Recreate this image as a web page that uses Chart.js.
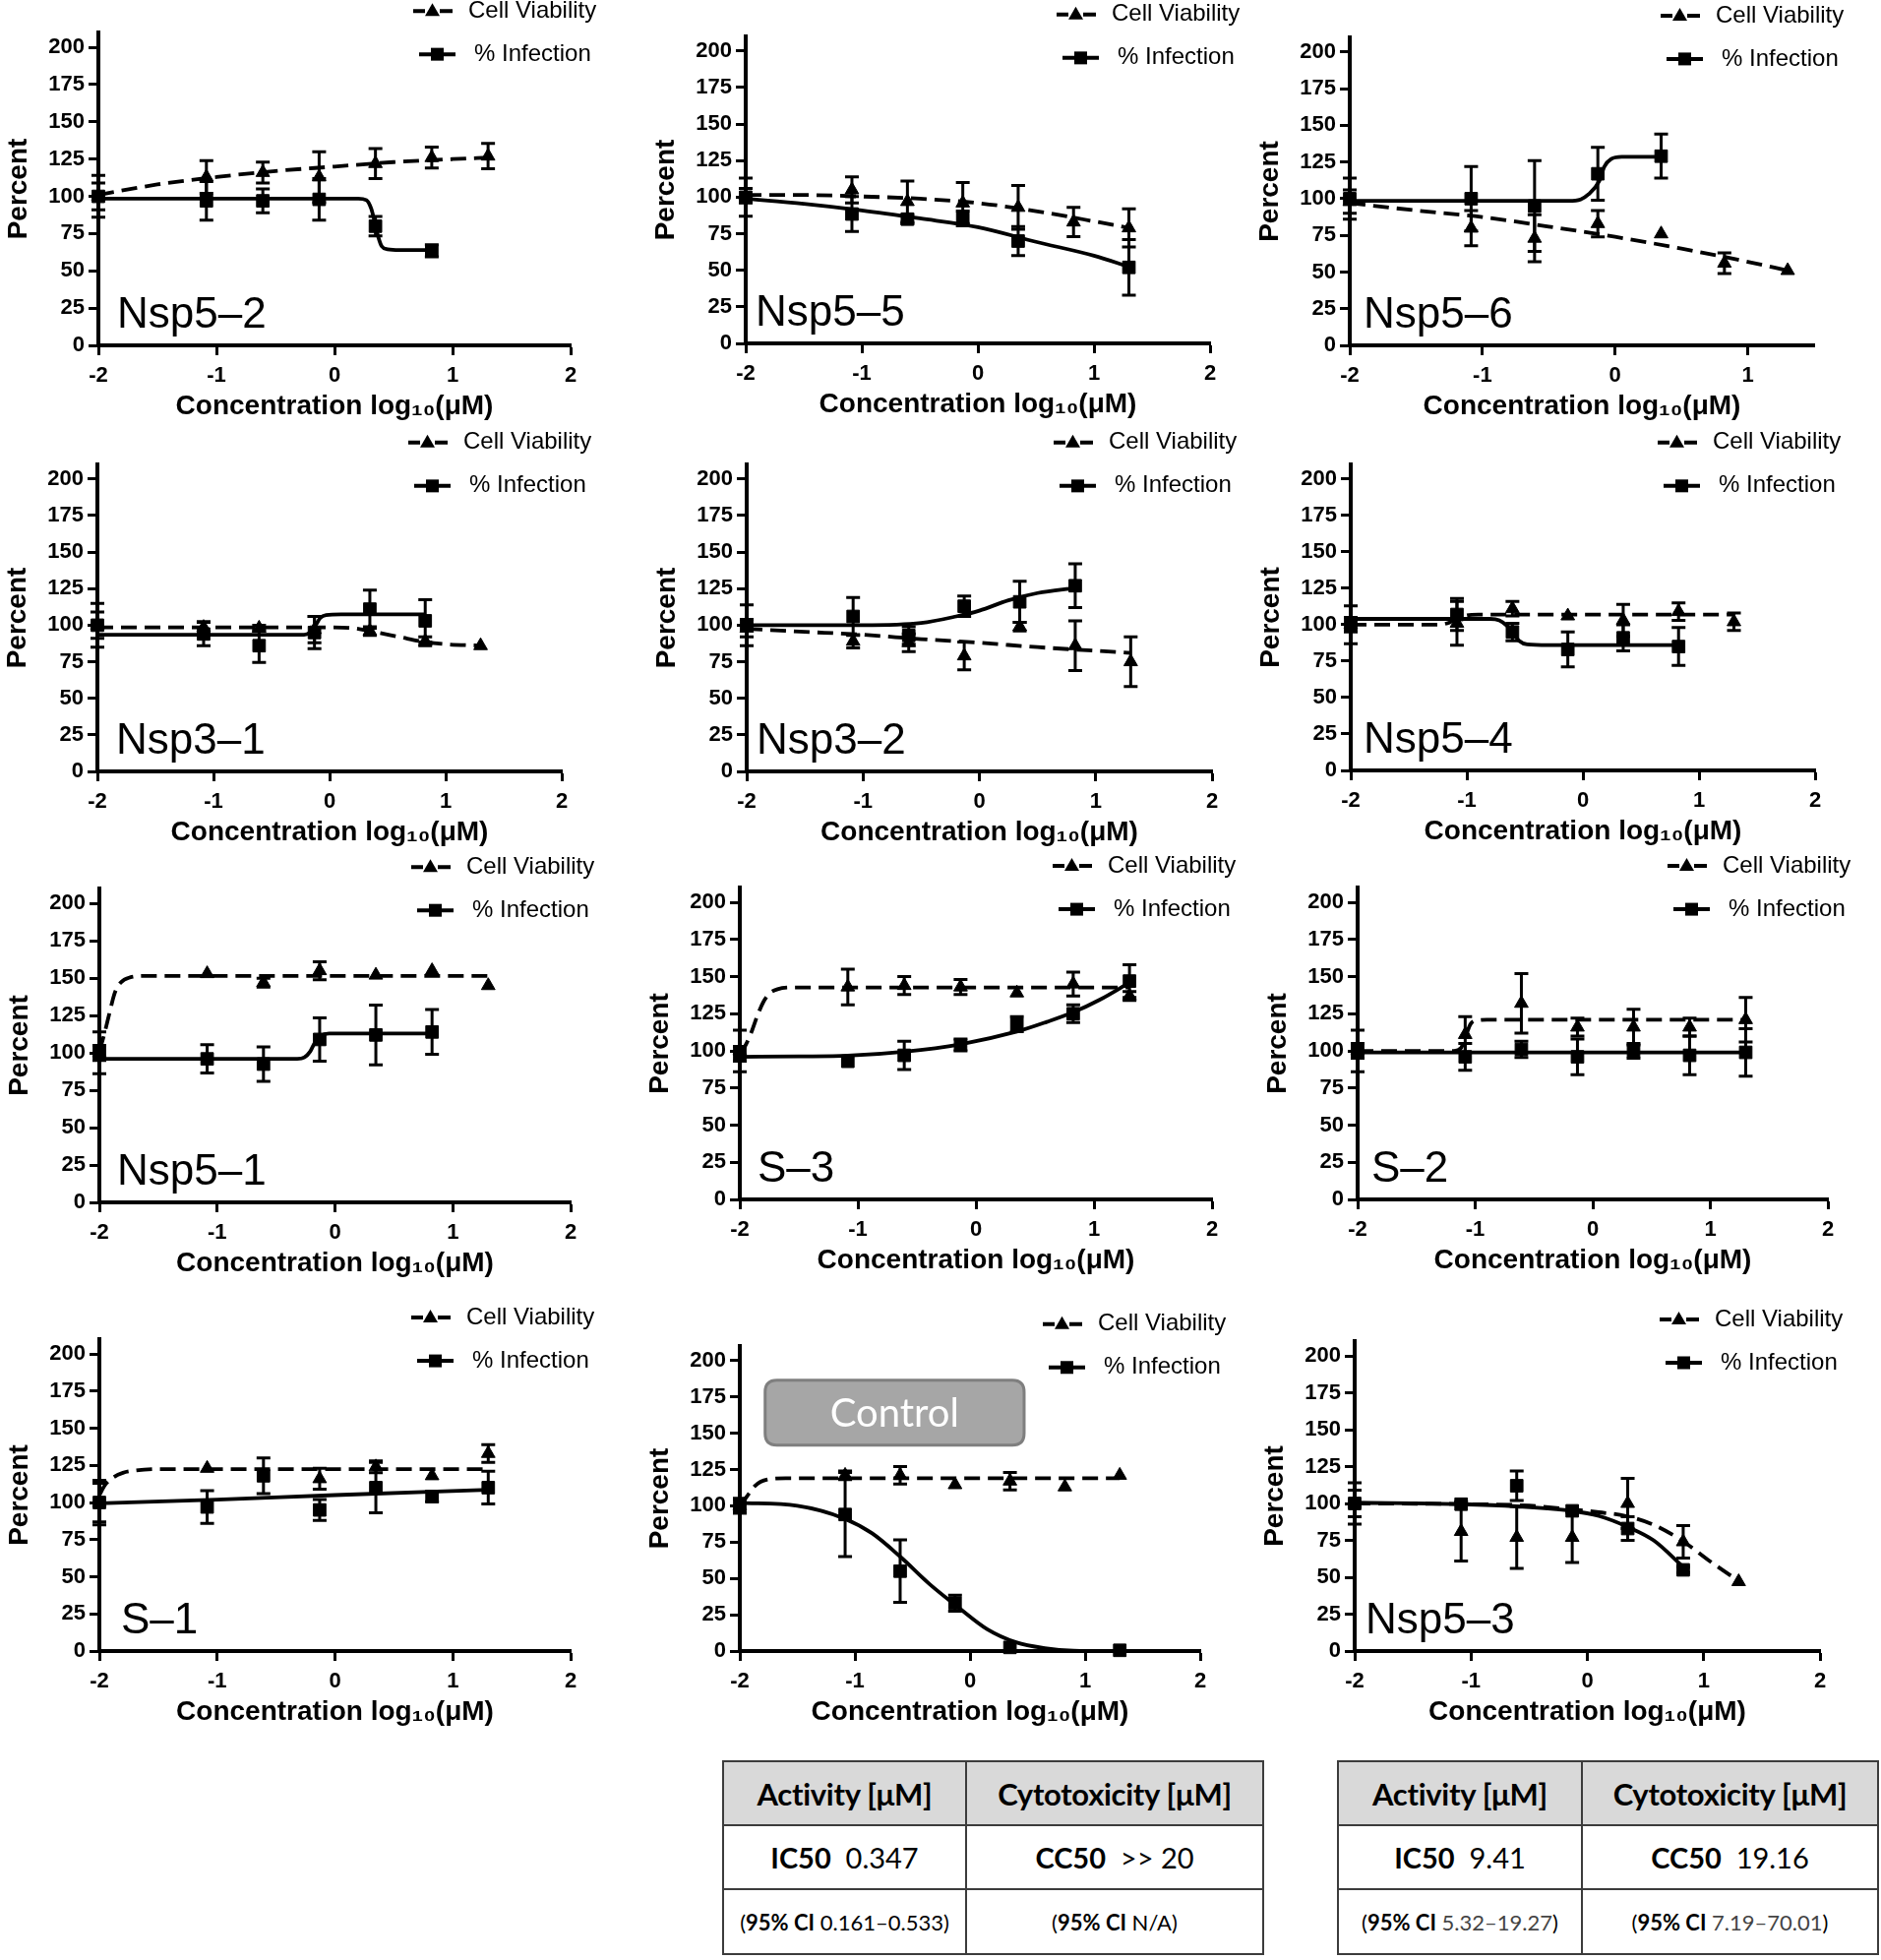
<!DOCTYPE html>
<html><head><meta charset="utf-8">
<script src="https://cdn.jsdelivr.net/npm/chart.js@4.4.0/dist/chart.umd.min.js"></script>
<style>
html,body{margin:0;padding:0;background:#fff;}
body{position:relative;width:1912px;height:1992px;overflow:hidden;}
canvas{position:absolute;}
.tbl{position:absolute;border-collapse:collapse;table-layout:fixed;font-family:Lato,"Open Sans",sans-serif;color:#000;}
.tbl td{border:2px solid #3c3c3c;text-align:center;vertical-align:middle;padding:0;white-space:nowrap;}
.tbl .hd td{background:#d9d9d9;font-weight:700;font-size:31px;height:63px;letter-spacing:-0.3px;}
.tbl .v td{font-size:29px;height:63px;}
.tbl .ci td{font-size:22px;height:64px;}
.tbl .g{color:#444;}
</style></head><body>

<table class="tbl" style="left:734px;top:1789px;width:549px;">
<colgroup><col style="width:247px"><col style="width:302px"></colgroup>
<tr class="hd"><td>Activity [μM]</td><td>Cytotoxicity [μM]</td></tr>
<tr class="v"><td><b>IC50</b>&nbsp;&nbsp;0.347</td><td><b>CC50</b>&nbsp;&nbsp;&gt;&gt; 20</td></tr>
<tr class="ci"><td>(<b>95% CI</b> 0.161–0.533)</td><td>(<b>95% CI</b> N/A)</td></tr>
</table>

<table class="tbl" style="left:1359px;top:1789px;width:549px;">
<colgroup><col style="width:248px"><col style="width:301px"></colgroup>
<tr class="hd"><td>Activity [μM]</td><td>Cytotoxicity [μM]</td></tr>
<tr class="v"><td><b>IC50</b>&nbsp;&nbsp;9.41</td><td><b>CC50</b>&nbsp;&nbsp;19.16</td></tr>
<tr class="ci"><td>(<b>95% CI</b> <span class="g">5.32–19.27</span>)</td><td>(<b>95% CI</b> <span class="g">7.19–70.01</span>)</td></tr>
</table>

<script>
// ---------------- DATA ----------------
const concX = [-2, -1.085, -0.607, -0.130, 0.347, 0.824, 1.301];

// Nsp5–2
const nsp52Viab     = [100, 113, 116, 113, 122, 126, 127];
const nsp52ViabErr  = [9, 11, 7, 17, 10, 7, 8.5];
const nsp52Inf      = [100, 97, 97, 98, 80, 63.5, null];
const nsp52InfErr   = [14, 13, 8, 14, 6.5, 4, null];
const nsp52ViabFitX = [-2, -1.5, -1, -0.5, 0, 0.5, 1, 1.301];
const nsp52ViabFitY = [101, 108, 113, 117, 120, 123, 125, 126];
const nsp52InfFitX  = [-2, 0.2, 0.27, 0.31, 0.34, 0.37, 0.4, 0.45, 0.55, 0.824];
const nsp52InfFitY  = [98.5, 98.5, 97.5, 92, 83, 73, 66.5, 64.5, 64, 64];

// Nsp5–5
const nsp55Viab     = [101, 105, 97, 96, 93, 83, 79];
const nsp55ViabErr  = [5, 9, 14, 14, 15, 10, 13];
const nsp55Inf      = [100, 88.5, 85, 85.5, 70, null, 52];
const nsp55InfErr   = [13, 12, 3, 5, 10, null, 19];
const nsp55ViabFitX = [-2, -1.5, -1, -0.5, 0, 0.5, 1, 1.301];
const nsp55ViabFitY = [101.5, 101.5, 100.5, 99, 96, 90.5, 83.5, 79];
const nsp55InfFitX  = [-2, -1.5, -1, -0.5, 0, 0.5, 1, 1.301];
const nsp55InfFitY  = [99, 95.5, 91, 85.5, 79.5, 69.5, 60, 52.5];

// Nsp5–6
const nsp56Viab     = [98, 80, 73, 83, 76, 56, 51];
const nsp56ViabErr  = [8, 12, 16, 9, null, 7, null];
const nsp56Inf      = [100, 100, 95, 117, 129, null, null];
const nsp56InfErr   = [14, 22, 31, 18, 15, null, null];
const nsp56ViabFitX = [-2, -1.5, -1, -0.5, 0, 0.5, 1, 1.301];
const nsp56ViabFitY = [97, 92, 87.5, 81, 74, 66, 57, 51];
const nsp56InfFitX  = [-2, -0.35, -0.26, -0.2, -0.12, -0.08, -0.03, 0.05, 0.347];
const nsp56InfFitY  = [98.5, 98.5, 99.5, 103, 112, 122, 127, 128.5, 128.5];

// Nsp3–1
const nsp31Viab     = [100, 98.5, 98, 97, 96, 89, 86];
const nsp31ViabErr  = [9, 4, 2, 9, 3, 3, null];
const nsp31Inf      = [100, 94, 86, 95, 111, 103, null];
const nsp31InfErr   = [15, 8, 11.5, 11, 13, 14.5, null];
const nsp31ViabFitX = [-2, 0, 0.2, 0.35, 0.6, 0.824, 1, 1.301];
const nsp31ViabFitY = [98.5, 98.5, 98, 96, 92, 88.5, 87, 86];
const nsp31InfFitX  = [-2, -0.22, -0.17, -0.12, -0.08, -0.03, 0.1, 0.824];
const nsp31InfFitY  = [93.5, 93.5, 95, 100, 105, 107, 107.5, 107.5];

// Nsp3–2
const nsp32Viab     = [98, 89, 88, 79, 99, 86, 75];
const nsp32ViabErr  = [6, 4.5, 6, 9.5, 3, 17, 17];
const nsp32Inf      = [100, 106, 93, 113, 116, 127, null];
const nsp32InfErr   = [14, 13, 6, 7, 14, 15, null];
const nsp32ViabFitX = [-2, -1.5, -1, -0.5, 0, 0.5, 1, 1.301];
const nsp32ViabFitY = [97.5, 95.5, 93.5, 90.5, 88, 85, 82.5, 81];
const nsp32InfFitX  = [-2, -1.5, -1, -0.5, -0.2, 0, 0.25, 0.5, 0.824];
const nsp32InfFitY  = [100, 100, 100, 101.5, 106, 110, 117, 122, 125.5];

// Nsp5–4
const nsp54Viab     = [100, 101, 111, 106, 103, 109, 102];
const nsp54ViabErr  = [13, 15, 5, null, 11, 6, 6];
const nsp54Inf      = [100, 107, 95, 83, 91, 85, null];
const nsp54InfErr   = [5, 11, 6, 12, 9, 13, null];
const nsp54ViabFitX = [-2, -1.25, -1.15, -1.08, -1.0, -0.9, 1.301];
const nsp54ViabFitY = [100, 100, 101.5, 104.5, 106.5, 107, 107];
const nsp54InfFitX  = [-2, -0.8, -0.72, -0.65, -0.6, -0.55, -0.48, -0.3, 0.824];
const nsp54InfFitY  = [104, 104, 103, 99, 94, 89, 86.5, 86, 86];

// Nsp5–1
const nsp51Viab     = [100, 153, 147, 155, 152, 155, 145];
const nsp51ViabErr  = [5, null, 3, 6, null, null, null];
const nsp51Inf      = [100, 96, 92.5, 109, 112, 114, null];
const nsp51InfErr   = [14, 9.5, 11.5, 14.5, 20, 15, null];
const nsp51ViabFitX = [-2, -1.96, -1.91, -1.87, -1.82, -1.74, -1.6, 1.301];
const nsp51ViabFitY = [101, 112, 128, 140, 147, 150.5, 151.5, 151.5];
const nsp51InfFitX  = [-2, -0.32, -0.26, -0.21, -0.17, -0.12, -0.05, 0.824];
const nsp51InfFitY  = [96, 96, 97, 101, 107, 111.5, 113, 113];

// S–3
const s3Viab     = [100, 143, 144, 143, 139, 145, 137];
const s3ViabErr  = [14, 12, 6, 5, null, 8, 3];
const s3Inf      = [98, 93, 97, 104, 118, 125, 147];
const s3InfErr   = [5, null, 9.5, 4, 5, 6, 11];
const s3ViabFitX = [-2, -1.95, -1.9, -1.85, -1.8, -1.75, -1.68, -1.55, 1.301];
const s3ViabFitY = [98, 104, 113, 124, 133, 138.5, 141.5, 142.7, 142.7];
const s3InfFitX  = [-2, -1.5, -1.085, -0.607, -0.13, 0.347, 0.6, 0.824, 1.05, 1.301];
const s3InfFitY  = [96, 96.3, 96.8, 99.5, 104.5, 113, 119.5, 126, 134.5, 146];

// S–2
const s2Viab     = [100, 111, 132, 116, 116, 116, 121];
const s2ViabErr  = [14, 12, 20, 6, 12, 6, 15];
const s2Inf      = [100, 96, 101, 96, 100, 97, 99];
const s2InfErr   = [5, 9, 5.5, 12, 5, 13, 16];
const s2ViabFitX = [-2, -1.18, -1.12, -1.08, -1.04, -0.98, -0.9, 1.301];
const s2ViabFitY = [100, 100, 102, 110, 118, 120.5, 121, 121];
const s2InfFitX  = [-2, 1.301];
const s2InfFitY  = [99, 99];

// S–1
const s1Viab     = [100, 123, null, 116, 124, 118, 133];
const s1ViabErr  = [15, null, null, 7, 4, null, 6];
const s1Inf      = [100, 97, 118, 95, 110, 104, 110];
const s1InfErr   = [13, 11, 12, 7, 17, 3.5, 11];
const s1ViabFitX = [-2, -1.95, -1.88, -1.8, -1.7, -1.5, 1.301];
const s1ViabFitY = [105, 112, 117, 120, 121.5, 122.5, 122.5];
const s1InfFitX  = [-2, -1, 0, 1.301];
const s1InfFitY  = [99.5, 102, 105, 108.5];

// Control
const ctrlViab     = [100, 121, 121, 114.5, 117, 113, 121];
const ctrlViabErr  = [5, 3, 6, null, 6, null, null];
const ctrlInf      = [100, 94, 55, 33, 2.5, null, 0.5];
const ctrlInfErr   = [5, 29, 21.5, 5.5, null, null, null];
const ctrlViabFitX = [-2, -1.96, -1.92, -1.87, -1.82, -1.75, -1.6, 1.301];
const ctrlViabFitY = [100, 104, 108.5, 113.5, 116.5, 118.3, 119, 119];
const ctrlInfFitX  = [-2, -1.5, -1.085, -0.85, -0.607, -0.35, -0.1, 0.15, 0.4, 0.65, 0.9, 1.301];
const ctrlInfFitY  = [102, 100, 91, 81, 65, 46, 30, 15, 6, 2, 0.3, 0];

// Nsp5–3
const nsp53Viab     = [100, 81, 77, 77, 100, 74, 47];
const nsp53ViabErr  = [14, 20, 21, 17, 17, 11, null];
const nsp53Inf      = [100, 99.5, 112, 95, 83, 55, null];
const nsp53InfErr   = [9, null, 10, null, 8, 2, null];
const nsp53ViabFitX = [-2, -1, -0.5, -0.14, 0.1, 0.33, 0.57, 0.82, 1.06, 1.301];
const nsp53ViabFitY = [100, 99.5, 98.5, 96, 94, 91.5, 85.5, 74.5, 60.5, 47.5];
const nsp53InfFitX  = [-2, -1.085, -0.607, -0.14, 0.1, 0.35, 0.57, 0.824];
const nsp53InfFitY  = [100.5, 99.5, 98, 95, 91.5, 84, 75, 57];

const yTickValues = [0, 25, 50, 75, 100, 125, 150, 175, 200];
const legendViab = 'Cell Viability';
const legendInf = '% Infection';
const xTitle = 'Concentration log₁₀(μM)';
const yTitle = 'Percent';

// ---------------- LAYOUT ----------------
const FONT = '"Liberation Sans", Arial, Helvetica, sans-serif';
// area: [left, right, top(y=210), bottom(y=0)] chart-area pixels on the page
const panels = [
  {label:'Nsp5–2', v:nsp52Viab, ve:nsp52ViabErr, i:nsp52Inf, ie:nsp52InfErr, vfx:nsp52ViabFitX, vfy:nsp52ViabFitY, ifx:nsp52InfFitX, ify:nsp52InfFitY, xMax:2, area:[100,580,32.9,351], ldx:376, lbx:19},
  {label:'Nsp5–5', v:nsp55Viab, ve:nsp55ViabErr, i:nsp55Inf, ie:nsp55InfErr, vfx:nsp55ViabFitX, vfy:nsp55ViabFitY, ifx:nsp55InfFitX, ify:nsp55InfFitY, xMax:2, area:[758,1230,37,349], ldx:372, lbx:10},
  {label:'Nsp5–6', v:nsp56Viab, ve:nsp56ViabErr, i:nsp56Inf, ie:nsp56InfErr, vfx:nsp56ViabFitX, vfy:nsp56ViabFitY, ifx:nsp56InfFitX, ify:nsp56InfFitY, xMax:1.5, area:[1372,1844,38,351], ldx:372, lbx:14},
  {label:'Nsp3–1', v:nsp31Viab, ve:nsp31ViabErr, i:nsp31Inf, ie:nsp31InfErr, vfx:nsp31ViabFitX, vfy:nsp31ViabFitY, ifx:nsp31InfFitX, ify:nsp31InfFitY, xMax:2, area:[99,571,472,784], ldx:372, lbx:19},
  {label:'Nsp3–2', v:nsp32Viab, ve:nsp32ViabErr, i:nsp32Inf, ie:nsp32InfErr, vfx:nsp32ViabFitX, vfy:nsp32ViabFitY, ifx:nsp32InfFitX, ify:nsp32InfFitY, xMax:2, area:[759,1232,472,784], ldx:368, lbx:10},
  {label:'Nsp5–4', v:nsp54Viab, ve:nsp54ViabErr, i:nsp54Inf, ie:nsp54InfErr, vfx:nsp54ViabFitX, vfy:nsp54ViabFitY, ifx:nsp54InfFitX, ify:nsp54InfFitY, xMax:2, area:[1373,1845,472,783], ldx:368, lbx:13},
  {label:'Nsp5–1', v:nsp51Viab, ve:nsp51ViabErr, i:nsp51Inf, ie:nsp51InfErr, vfx:nsp51ViabFitX, vfy:nsp51ViabFitY, ifx:nsp51InfFitX, ify:nsp51InfFitY, xMax:2, area:[101,580,903,1222], ldx:373, lbx:18},
  {label:'S–3', v:s3Viab, ve:s3ViabErr, i:s3Inf, ie:s3InfErr, vfx:s3ViabFitX, vfy:s3ViabFitY, ifx:s3InfFitX, ify:s3InfFitY, xMax:2, area:[752,1232,902,1219], ldx:374, lbx:18},
  {label:'S–2', v:s2Viab, ve:s2ViabErr, i:s2Inf, ie:s2InfErr, vfx:s2ViabFitX, vfy:s2ViabFitY, ifx:s2InfFitX, ify:s2InfFitY, xMax:2, area:[1380,1858,902,1219], ldx:371, lbx:14},
  {label:'S–1', v:s1Viab, ve:s1ViabErr, i:s1Inf, ie:s1InfErr, vfx:s1ViabFitX, vfy:s1ViabFitY, ifx:s1InfFitX, ify:s1InfFitY, xMax:2, area:[101,580,1361,1678], ldx:373, lbx:22},
  {label:'', control:'Control', v:ctrlViab, ve:ctrlViabErr, i:ctrlInf, ie:ctrlInfErr, vfx:ctrlViabFitX, vfy:ctrlViabFitY, ifx:ctrlInfFitX, ify:ctrlInfFitY, xMax:2, area:[752,1220,1368,1678], ldx:364, lbx:18},
  {label:'Nsp5–3', v:nsp53Viab, ve:nsp53ViabErr, i:nsp53Inf, ie:nsp53InfErr, vfx:nsp53ViabFitX, vfy:nsp53ViabFitY, ifx:nsp53InfFitX, ify:nsp53InfFitY, xMax:2, area:[1377,1850,1363,1678], ldx:366, lbx:11}
];

function pointsOf(xs, ys, es) {
  const out = [];
  xs.forEach((x, k) => { if (ys[k] !== null && ys[k] !== undefined) out.push({x: x, y: ys[k], e: es ? es[k] : null}); });
  return out;
}

const errorBarPlugin = {
  id: 'errbars',
  afterDatasetsDraw(chart) {
    const ctx = chart.ctx, xs = chart.scales.x, ys = chart.scales.y;
    ctx.save();
    ctx.strokeStyle = '#000'; ctx.lineWidth = 3; ctx.lineCap = 'butt';
    chart.data.datasets.forEach(ds => {
      if (!ds.isPoints) return;
      ds.data.forEach(p => {
        if (p.e === null || p.e === undefined || !p.e) return;
        const px = xs.getPixelForValue(p.x);
        const yt = ys.getPixelForValue(p.y + p.e);
        const yb = ys.getPixelForValue(p.y - p.e);
        ctx.beginPath();
        ctx.moveTo(px, yt); ctx.lineTo(px, yb);
        ctx.moveTo(px - 7, yt); ctx.lineTo(px + 7, yt);
        ctx.moveTo(px - 7, yb); ctx.lineTo(px + 7, yb);
        ctx.stroke();
      });
    });
    ctx.restore();
  }
};

function roundRect(ctx, x, y, w, h, r) {
  ctx.beginPath();
  ctx.moveTo(x + r, y);
  ctx.lineTo(x + w - r, y); ctx.quadraticCurveTo(x + w, y, x + w, y + r);
  ctx.lineTo(x + w, y + h - r); ctx.quadraticCurveTo(x + w, y + h, x + w - r, y + h);
  ctx.lineTo(x + r, y + h); ctx.quadraticCurveTo(x, y + h, x, y + h - r);
  ctx.lineTo(x, y + r); ctx.quadraticCurveTo(x, y, x + r, y);
  ctx.closePath();
}

const decorPlugin = {
  id: 'decor',
  afterDraw(chart, args, opts) {
    const ctx = chart.ctx, ca = chart.chartArea, xs = chart.scales.x, ys = chart.scales.y;
    const y200 = ys.getPixelForValue(200), y0 = ys.getPixelForValue(0);
    ctx.save();
    ctx.fillStyle = '#000'; ctx.strokeStyle = '#000';
    // legend
    const tx = ca.left + opts.ldx;
    const cvY = y200 - 37, infY = y200 + 7;
    ctx.font = '24px ' + FONT;
    ctx.textBaseline = 'middle'; ctx.textAlign = 'left';
    ctx.fillText(legendViab, tx, cvY);
    ctx.fillText(legendInf, tx + 6, infY);
    // viability symbol: dashes + triangle
    ctx.lineWidth = 4;
    ctx.beginPath();
    ctx.moveTo(tx - 56, cvY); ctx.lineTo(tx - 44, cvY);
    ctx.moveTo(tx - 29, cvY); ctx.lineTo(tx - 16, cvY);
    ctx.stroke();
    const cx = tx - 36.5;
    ctx.beginPath();
    ctx.moveTo(cx, cvY - 8); ctx.lineTo(cx + 7.5, cvY + 5); ctx.lineTo(cx - 7.5, cvY + 5); ctx.closePath(); ctx.fill();
    // infection symbol: solid line + square
    const ix = tx + 6;
    ctx.beginPath(); ctx.moveTo(ix - 56, infY); ctx.lineTo(ix - 19, infY); ctx.stroke();
    ctx.fillRect(ix - 37.5 - 6.5, infY - 6.5, 13, 13);
    // panel label
    if (opts.label) {
      ctx.font = '44px ' + FONT;
      ctx.textBaseline = 'alphabetic';
      ctx.fillText(opts.label, ca.left + opts.lbx, y0 - 18);
    }
    // control box
    if (opts.control) {
      const bx1 = xs.getPixelForValue(-1.78), bx2 = xs.getPixelForValue(0.47);
      const by1 = ys.getPixelForValue(186.4), by2 = ys.getPixelForValue(141.7);
      roundRect(ctx, bx1, by1, bx2 - bx1, by2 - by1, 12);
      ctx.fillStyle = '#a6a6a6'; ctx.fill();
      ctx.lineWidth = 3; ctx.strokeStyle = '#7f7f7f'; ctx.stroke();
      ctx.fillStyle = '#fff';
      ctx.font = '40px Lato, "Open Sans", sans-serif';
      ctx.textAlign = 'center'; ctx.textBaseline = 'middle';
      ctx.fillText(opts.control, (bx1 + bx2) / 2, (by1 + by2) / 2 + 1);
    }
    ctx.restore();
  }
};

Chart.defaults.font.family = FONT;
Chart.defaults.color = '#000';

const PAD_T = 60, PAD_R = 60, PAD_B = 14, YW = 100, XH = 79;

panels.forEach(p => {
  const [L, R, T, B] = p.area;
  const canvas = document.createElement('canvas');
  let W = Math.round((R - L) + YW + PAD_R), H = Math.round((B - T) + PAD_T + XH + PAD_B);
  canvas.width = W; canvas.height = H;
  document.body.appendChild(canvas);

  const chart = new Chart(canvas, {
    type: 'line',
    data: {
      datasets: [
        {label: legendViab, data: pointsOf(concX, p.v, p.ve), isPoints: true, showLine: false,
         pointStyle: 'triangle', pointRadius: 8, backgroundColor: '#000', borderColor: '#000', borderWidth: 1, order: 0, clip: false},
        {label: legendInf, data: pointsOf(concX, p.i, p.ie), isPoints: true, showLine: false,
         pointStyle: 'rect', pointRadius: 9, backgroundColor: '#000', borderColor: '#000', borderWidth: 1, order: 0, clip: false},
        {label: legendViab + ' fit', data: pointsOf(p.vfx, p.vfy), pointRadius: 0, borderColor: '#000', borderWidth: 3.8,
         borderDash: [16, 8], cubicInterpolationMode: 'monotone', fill: false, order: 1, clip: false},
        {label: legendInf + ' fit', data: pointsOf(p.ifx, p.ify), pointRadius: 0, borderColor: '#000', borderWidth: 3.8,
         cubicInterpolationMode: 'monotone', fill: false, order: 1, clip: false}
      ]
    },
    options: {
      responsive: false, maintainAspectRatio: false, animation: false, events: [],
      layout: {padding: {left: 0, top: PAD_T, right: PAD_R, bottom: PAD_B}},
      plugins: {legend: {display: false}, tooltip: {enabled: false},
        decor: {label: p.label, control: p.control, ldx: p.ldx, lbx: p.lbx}},
      scales: {
        x: {
          type: 'linear', min: -2, max: p.xMax,
          ticks: {stepSize: 1, font: {size: 22, weight: 'bold'}, color: '#000', padding: 8, maxRotation: 0},
          afterBuildTicks: s => { s.ticks = s.ticks.filter(t => Number.isInteger(t.value)); },
          afterFit: s => { s.height = XH; },
          grid: {display: true, drawOnChartArea: false, drawTicks: true, tickLength: 10, tickWidth: 3, tickColor: '#000', color: '#000'},
          border: {display: true, color: '#000', width: 4},
          title: {display: true, text: xTitle, font: {size: 28, weight: 'bold'}, color: '#000', padding: {top: 0, bottom: 0}}
        },
        y: {
          type: 'linear', min: 0, max: 210,
          ticks: {stepSize: 25, font: {size: 22, weight: 'bold'}, color: '#000', padding: 4},
          afterBuildTicks: s => { s.ticks = yTickValues.map(v => ({value: v})); },
          afterFit: s => { s.width = YW; },
          grid: {display: true, drawOnChartArea: false, drawTicks: true, tickLength: 10, tickWidth: 3, tickColor: '#000', color: '#000'},
          border: {display: true, color: '#000', width: 4},
          title: {display: true, text: yTitle, font: {size: 28, weight: 'bold'}, color: '#000', padding: {top: 2, bottom: 0}}
        }
      }
    },
    plugins: [errorBarPlugin, decorPlugin]
  });

  let ca = chart.chartArea;
  const dw = (R - L) - (ca.right - ca.left);
  const dh = (B - T) - (ca.bottom - ca.top);
  if (Math.abs(dw) > 0.5 || Math.abs(dh) > 0.5) {
    W = Math.round(W + dw); H = Math.round(H + dh);
    chart.resize(W, H);
    ca = chart.chartArea;
  }
  canvas.style.left = Math.round(L - ca.left) + 'px';
  canvas.style.top = Math.round(T - ca.top) + 'px';
});
</script>
</body></html>
